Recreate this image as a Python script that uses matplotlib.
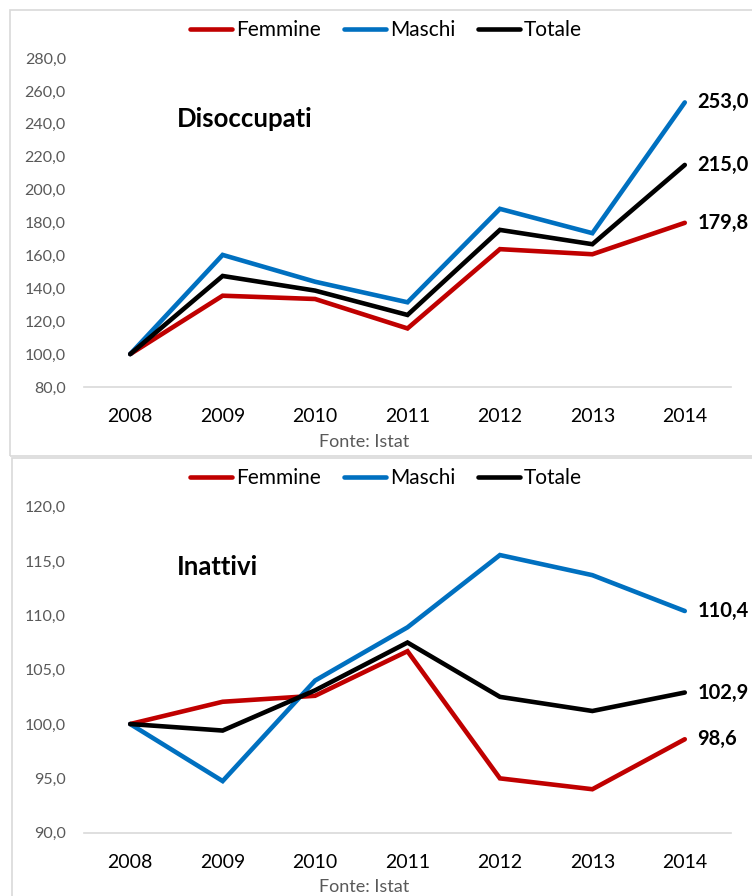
import matplotlib
matplotlib.use("Agg")
import matplotlib.pyplot as plt
from matplotlib.patches import Rectangle

plt.rcParams['font.family'] = ['Lato', 'DejaVu Sans']

years = ['2008', '2009', '2010', '2011', '2012', '2013', '2014']

disocc_femmine = [100.0, 135.5, 133.5, 115.6, 163.8, 160.7, 179.8]
disocc_maschi = [100.0, 160.3, 144.0, 131.5, 188.3, 173.5, 253.0]
disocc_totale = [100.0, 147.5, 138.6, 123.8, 175.5, 166.8, 215.0]

inatt_femmine = [100.0, 102.05, 102.6, 106.7, 95.0, 94.0, 98.6]
inatt_maschi = [100.0, 94.75, 104.0, 108.9, 115.55, 113.7, 110.4]
inatt_totale = [100.0, 99.4, 103.1, 107.5, 102.5, 101.2, 102.9]

series_names = ['Femmine', 'Maschi', 'Totale']
colors = ['#C00000', '#0070C0', '#000000']

W, H = 752, 896
fig = plt.figure(figsize=(W / 100, H / 100), dpi=100)

# panel borders
fig.patches.append(Rectangle((10 / W, 1 - 456 / H), 800 / W, 446 / H,
                             transform=fig.transFigure, fill=False,
                             edgecolor='#D9D9D9', lw=1.2))
fig.patches.append(Rectangle((12 / W, -0.05), 800 / W, (1 - 458 / H) + 0.05,
                             transform=fig.transFigure, fill=False,
                             edgecolor='#D9D9D9', lw=1.2))


def make_panel(rect, data, ylim, step, title, title_xy, fonte_y, legend_y):
    ax = fig.add_axes(rect)
    x = list(range(len(years)))
    handles = []
    for name, vals, c in zip(series_names, data, colors):
        h, = ax.plot(x, vals, color=c, lw=3.3, solid_capstyle='round',
                     solid_joinstyle='miter', label=name)
        handles.append(h)
    ax.set_xlim(-0.5, len(years) - 0.5)
    ax.set_ylim(*ylim)
    ticks = []
    v = ylim[0]
    while v <= ylim[1] + 1e-9:
        ticks.append(v)
        v += step
    ax.set_yticks(ticks)
    ax.set_yticklabels([f"{t:.1f}".replace('.', ',') for t in ticks],
                       color='#595959', fontsize=11.5)
    ax.set_xticks(x)
    ax.set_xticklabels(years, fontsize=14, color='#000000')
    ax.tick_params(axis='both', length=0)
    ax.tick_params(axis='y', pad=13)
    ax.tick_params(axis='x', pad=15)
    for s in ['top', 'right', 'left']:
        ax.spines[s].set_visible(False)
    ax.spines['bottom'].set_color('#D9D9D9')
    ax.spines['bottom'].set_linewidth(1.2)
    # end labels
    for vals in data:
        last = vals[-1]
        ax.annotate(f"{last:.1f}".replace('.', ','), xy=(x[-1], last),
                    xytext=(9, 0), textcoords='offset points',
                    ha='left', va='center', fontsize=14.5, fontweight='bold',
                    color='#000000', annotation_clip=False)
    fig.text(title_xy[0] / W, 1 - title_xy[1] / H, title, fontsize=18.5,
             fontweight='bold', ha='left', va='center')
    fig.text(364 / W, 1 - fonte_y / H, 'Fonte: Istat', fontsize=13,
             color='#595959', ha='center', va='center')
    fig.legend(handles=handles, loc='center', ncol=3,
               bbox_to_anchor=(386 / W, 1 - legend_y / H),
               frameon=False, fontsize=15, handlelength=2.0,
               handletextpad=0.2, columnspacing=1.1, borderaxespad=0)
    return ax


make_panel([84 / W, 1 - 387 / H, (731 - 84) / W, (387 - 58) / H],
           [disocc_femmine, disocc_maschi, disocc_totale],
           (80, 280), 20, 'Disoccupati', (177, 119), 442, 30)
make_panel([84 / W, 1 - 832.7 / H, (731 - 84) / W, (832.7 - 506.7) / H],
           [inatt_femmine, inatt_maschi, inatt_totale],
           (90, 120), 5, 'Inattivi', (177, 567), 887, 478)

fig.savefig('out.png', dpi=100)
